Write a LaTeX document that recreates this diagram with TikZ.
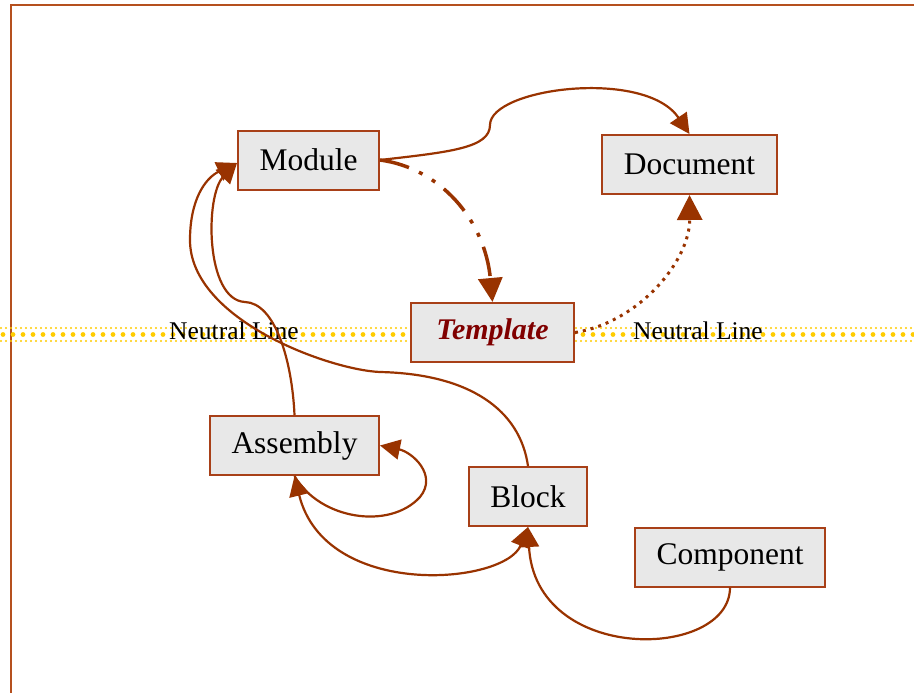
\documentclass[tikz,border=0pt]{standalone}
\usepackage{fontspec}
\setmainfont{Liberation Serif}
\usetikzlibrary{arrows.meta}
\definecolor{edgecol}{RGB}{153,51,0}
\definecolor{boxline}{RGB}{168,64,24}
\definecolor{boxfill}{RGB}{232,232,232}
\definecolor{framecol}{RGB}{181,80,30}
\definecolor{neutral}{RGB}{255,204,0}
\definecolor{tmpltext}{RGB}{128,0,0}
\tikzset{
  box/.style={draw=boxline, fill=boxfill, line width=2pt, rectangle, inner sep=0pt,
    minimum height=59pt, font=\fontsize{31.5}{36}\selectfont},
  link/.style={draw=edgecol, line width=2.2pt, -{Triangle[length=20pt,width=20pt]}},
  dotrow/.style={draw=neutral, line cap=round},
  neutrallabel/.style={font=\fontsize{25.5}{30}\selectfont, inner sep=0pt}
}
\begin{document}
\begin{tikzpicture}[x=1pt, y=-1pt]
\useasboundingbox (0,0) rectangle (914,693);
\fill[white] (0,0) rectangle (914,693);
% outer frame
\draw[framecol, line width=2.5pt] (11,720) -- (11,5) -- (940,5);
% neutral line: three rows of gold dots
\draw[dotrow, line width=2.3pt, dash pattern=on 0pt off 5pt] (1,328) -- (914,328);
\draw[dotrow, line width=4.8pt, dash pattern=on 0pt off 10pt] (3,334.5) -- (914,334.5);
\draw[dotrow, line width=2.3pt, dash pattern=on 0pt off 5pt] (1,341) -- (914,341);
\node[neutrallabel] (nl1) at (234,331) {Neutral Line};
\node[neutrallabel] (nl2) at (698,331) {Neutral Line};
% nodes
\node[box, minimum width=141pt] (mod) at (308.5,160) {Module};
\node[box, minimum width=175pt] (doc) at (689.5,164.5) {Document};
\node[box, minimum width=163pt, font=\fontsize{30}{36}\selectfont\bfseries\itshape, text=tmpltext] (tpl) at (492.5,332.5) {Template};
\node[box, minimum width=169pt] (asm) at (294.5,445.5) {Assembly};
\node[box, minimum width=118pt] (blk) at (528,496.5) {Block};
\node[box, minimum width=190pt] (cmp) at (730,557) {Component};
\coordinate (modin) at (237,163);
% connectors
\draw[link] (mod.east) .. controls (450,152) and (490,148) .. (490,125)
  .. controls (490,88) and (645,68) .. (doc.north);
\draw[link, line width=3.5pt, dash pattern=on 30pt off 11pt on 4pt off 11pt on 4pt off 11pt,
  -{Triangle[length=24pt,width=24pt]}]
  (mod.east) .. controls (440,168) and (485,220) .. (tpl.north);
\draw[link, line width=3pt, dash pattern=on 3pt off 5pt, -{Triangle[length=25pt,width=25pt]}]
  (tpl.east) .. controls (640,322) and (690,260) .. (doc.south);
\draw[link] (asm.north) .. controls (292,360) and (275,303) .. (245,302)
  .. controls (205,300) and (205,195) .. (modin);
\draw[link] (blk.north) .. controls (520,410) and (470,374) .. (380,372)
  .. controls (330,370) and (190,320) .. (190,240)
  .. controls (190,200) and (205,178) .. (modin);
\draw[link] (asm.south) .. controls (320,520) and (390,530) .. (420,497)
  .. controls (438,475) and (412,452) .. (asm.east);
\draw[link, {Triangle[length=20pt,width=20pt]}-{Triangle[length=20pt,width=20pt]}]
  (asm.south) .. controls (325,600) and (505,585) .. (blk.south);
\draw[link] (cmp.south) .. controls (730,660) and (535,665) .. (blk.south);
\end{tikzpicture}
\end{document}
